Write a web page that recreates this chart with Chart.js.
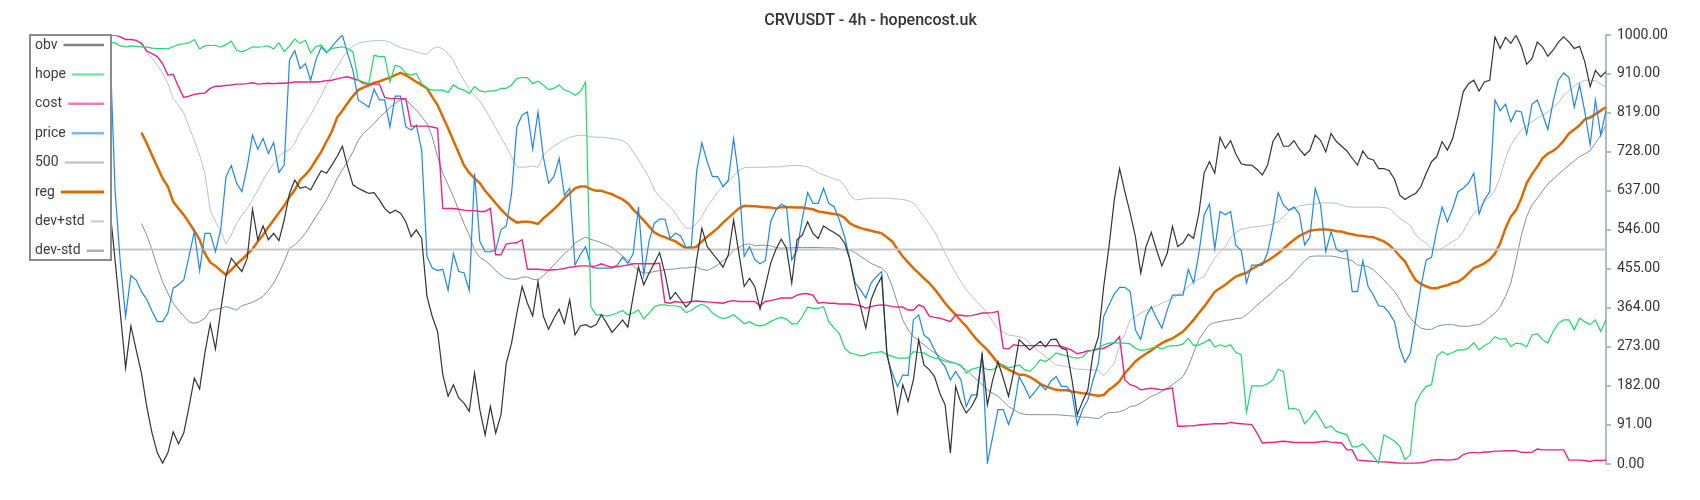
<!DOCTYPE html>
<html>
<head>
<meta charset="utf-8">
<title>CRVUSDT - 4h - hopencost.uk</title>
<script src="https://cdn.jsdelivr.net/npm/chart.js@4.4.1/dist/chart.umd.min.js"></script>
<style>
    body { margin: 0; background: #fff; }
    canvas { display: block; }
</style>
</head>
<body>
<canvas id="hopeChart" width="1700" height="500"></canvas>
<script>
// values, 0..1000 scale, one per 4h candle
const obv = [
    820, 800, 790, 760, 780, 750, 740, 720, 700, 690,
    680, 660, 640, 600, 476, 352, 224, 322, 266, 212,
    134, 72, 26, 2, 26, 75, 47, 72, 134, 200,
    175, 259, 327, 268, 359, 441, 480, 464, 449, 480,
    594, 523, 555, 523, 538, 521, 569, 631, 662, 643,
    647, 639, 662, 684, 678, 697, 717, 741, 693, 651,
    643, 637, 631, 633, 616, 596, 585, 592, 585, 565,
    530, 546, 526, 391, 344, 309, 208, 158, 185, 154,
    142, 123, 212, 127, 68, 134, 72, 115, 235, 282,
    352, 414, 375, 345, 425, 345, 314, 340, 361, 328,
    383, 301, 322, 325, 319, 325, 348, 328, 307, 321,
    336, 319, 391, 460, 418, 445, 468, 493, 445, 384,
    400, 383, 366, 379, 476, 550, 507, 491, 476, 459,
    488, 569, 491, 414, 433, 414, 361, 414, 468, 501,
    524, 503, 422, 523, 534, 565, 538, 526, 555, 547,
    540, 532, 515, 476, 414, 367, 317, 383, 414, 437,
    259, 196, 119, 185, 146, 196, 290, 231, 220, 204,
    165, 138, 26, 181, 142, 119, 134, 158, 255, 138,
    196, 239, 200, 158, 216, 290, 278, 266, 276, 286,
    273, 290, 291, 270, 266, 196, 115, 146, 173, 259,
    297, 414, 507, 616, 689, 635, 585, 530, 445, 507,
    540, 499, 462, 491, 554, 507, 516, 536, 526, 585,
    679, 705, 678, 762, 736, 754, 723, 700, 697, 697,
    687, 674, 697, 752, 771, 741, 741, 754, 734, 720,
    732, 767, 755, 728, 771, 752, 741, 730, 713, 697,
    730, 713, 709, 689, 689, 684, 664, 627, 617, 625,
    631, 647, 678, 705, 717, 752, 732, 759, 810, 868,
    887, 895, 870, 891, 895, 996, 969, 995, 981, 1000,
    973, 932, 946, 984, 973, 951, 965, 984, 996, 984,
    969, 974, 938, 880, 918, 903, 915
];

const hope = [
    990, 988, 992, 995, 990, 985, 990, 992, 988, 996,
    998, 990, 986, 984, 982, 975, 973, 975, 974, 973,
    972, 970, 969, 969, 968, 973, 978, 980, 982, 990,
    968, 975, 976, 976, 972, 978, 986, 965, 961, 966,
    973, 972, 973, 975, 968, 982, 962, 975, 991, 981,
    988, 959, 973, 977, 961, 969, 971, 973, 969, 961,
    895, 891, 887, 953, 950, 950, 891, 930, 926, 911,
    907, 911, 887, 876, 872, 872, 872, 866, 884, 876,
    872, 864, 880, 870, 868, 870, 870, 876, 876, 884,
    899, 901, 901, 887, 893, 884, 873, 876, 884, 872,
    868, 860, 868, 891, 367, 348, 348, 345, 348, 352,
    358, 348, 352, 359, 338, 352, 366, 371, 371, 369,
    369, 366, 353, 358, 367, 373, 366, 352, 344, 339,
    342, 348, 338, 327, 332, 325, 322, 325, 332, 338,
    342, 338, 327, 327, 344, 366, 363, 363, 367, 332,
    317, 304, 270, 259, 256, 252, 254, 259, 260, 262,
    255, 251, 247, 247, 247, 262, 260, 259, 252, 247,
    245, 239, 237, 235, 231, 212, 221, 224, 227, 220,
    220, 227, 231, 224, 227, 231, 220, 216, 227, 243,
    239, 247, 259, 255, 252, 249, 247, 249, 262, 266,
    270, 278, 282, 283, 282, 282, 280, 270, 265, 266,
    270, 273, 268, 274, 276, 276, 280, 293, 276, 278,
    283, 291, 273, 278, 274, 278, 260, 255, 120, 182,
    182, 182, 187, 196, 221, 216, 128, 130, 125, 94,
    107, 125, 105, 84, 89, 76, 72, 68, 40, 40,
    47, 33, 18, 2, 68, 61, 53, 41, 10, 22,
    142, 165, 181, 185, 251, 262, 255, 260, 266, 266,
    270, 283, 266, 276, 283, 297, 291, 293, 274, 282,
    280, 273, 301, 304, 290, 282, 309, 328, 336, 336,
    313, 340, 332, 325, 336, 309, 336
];

const cost = [
    996, 998, 1000, 1000, 999, 998, 997, 996, 997, 998,
    999, 999, 1000, 1000, 1000, 996, 990, 990, 988, 981,
    963, 957, 950, 934, 907, 909, 880, 855, 858, 862,
    864, 865, 876, 881, 881, 883, 884, 886, 886, 887,
    889, 886, 887, 888, 887, 888, 888, 889, 891, 891,
    891, 891, 891, 892, 894, 895, 898, 901, 903, 899,
    895, 887, 886, 886, 886, 855, 852, 852, 852, 852,
    788, 788, 788, 788, 786, 783, 596, 596, 596, 594,
    592, 591, 591, 589, 589, 596, 488, 488, 513, 515,
    516, 523, 454, 454, 454, 453, 452, 453, 454, 456,
    459, 460, 462, 462, 461, 462, 467, 462, 459, 460,
    462, 464, 467, 467, 467, 467, 467, 468, 377, 375,
    379, 377, 377, 379, 380, 379, 378, 377, 376, 375,
    379, 381, 379, 379, 379, 379, 369, 379, 381, 384,
    387, 387, 387, 394, 397, 397, 394, 375, 377, 375,
    375, 373, 373, 373, 371, 369, 363, 367, 370, 371,
    370, 367, 366, 366, 359, 359, 371, 366, 345, 342,
    340, 336, 332, 348, 347, 345, 346, 349, 352, 352,
    353, 356, 270, 268, 278, 276, 276, 276, 276, 276,
    276, 276, 276, 274, 270, 265, 257, 260, 264, 265,
    268, 270, 276, 283, 297, 196, 185, 181, 173, 175,
    177, 175, 173, 175, 177, 88, 88, 89, 89, 91,
    92, 93, 94, 94, 94, 97, 95, 94, 93, 92,
    72, 49, 50, 50, 52, 53, 52, 50, 50, 50,
    50, 50, 52, 53, 51, 50, 49, 33, 33, 9,
    8, 7, 6, 5, 5, 4, 3, 2, 2, 2,
    2, 3, 5, 9, 10, 10, 9, 10, 12, 22,
    26, 27, 26, 28, 28, 30, 30, 31, 31, 31,
    27, 27, 27, 35, 33, 33, 33, 33, 33, 9,
    9, 9, 8, 6, 9, 8, 9
];

const price = [
    960, 955, 965, 970, 960, 975, 980, 970, 975, 985,
    990, 985, 995, 990, 640, 470, 344, 439, 429, 402,
    384, 356, 332, 332, 352, 410, 418, 429, 484, 542,
    451, 538, 538, 495, 547, 670, 696, 655, 635, 693,
    767, 734, 759, 724, 750, 680, 697, 942, 964, 922,
    934, 895, 942, 973, 959, 973, 988, 1000, 957, 918,
    849, 841, 832, 874, 849, 849, 786, 858, 858, 786,
    779, 790, 732, 484, 457, 451, 454, 405, 491, 449,
    446, 405, 678, 519, 495, 495, 499, 546, 555, 631,
    786, 814, 821, 734, 821, 717, 655, 670, 713, 627,
    643, 464, 488, 507, 460, 457, 457, 457, 457, 464,
    482, 468, 491, 599, 441, 519, 561, 571, 571, 526,
    538, 532, 505, 507, 682, 749, 705, 670, 670, 647,
    662, 759, 666, 484, 507, 477, 467, 474, 565, 592,
    606, 600, 476, 499, 573, 633, 608, 608, 643, 608,
    600, 569, 530, 476, 422, 406, 387, 422, 437, 449,
    251, 212, 181, 208, 206, 336, 348, 301, 291, 266,
    243, 227, 196, 216, 196, 134, 161, 161, 259, 2,
    64, 127, 127, 92, 127, 204, 181, 154, 169, 185,
    173, 193, 204, 181, 181, 165, 92, 127, 150, 196,
    235, 344, 371, 397, 412, 412, 402, 313, 290, 344,
    367, 340, 317, 359, 394, 394, 394, 454, 422, 491,
    581, 606, 501, 589, 581, 589, 509, 499, 422, 464,
    464, 464, 493, 554, 633, 604, 592, 599, 583, 511,
    529, 643, 604, 495, 542, 501, 495, 499, 402, 402,
    474, 414, 394, 369, 367, 352, 332, 270, 237, 259,
    336, 414, 476, 482, 546, 599, 565, 596, 635, 643,
    655, 678, 583, 616, 635, 849, 824, 839, 798, 824,
    821, 769, 839, 849, 816, 780, 845, 895, 912, 901,
    832, 884, 821, 744, 849, 767, 825
];

// regression and its band only start once the window is full
const warmup = new Array(19).fill(null);

const reg = warmup.concat([
    773, 748, 720, 693, 666, 647, 612, 596, 581, 563, 544,
    523, 491, 470, 462, 451, 441, 453, 466, 477, 489,
    501, 519, 534, 552, 569, 586, 602, 623, 639, 662,
    674, 689, 709, 728, 752, 775, 808, 824, 842, 858,
    872, 878, 883, 889, 892, 897, 901, 907, 912, 907,
    899, 891, 884, 876, 856, 837, 810, 783, 754, 726,
    697, 679, 666, 655, 637, 623, 608, 594, 581, 571,
    563, 565, 565, 563, 560, 573, 583, 594, 606, 620,
    631, 643, 647, 647, 641, 637, 637, 633, 629, 623,
    617, 608, 594, 581, 568, 554, 540, 533, 529, 524,
    519, 511, 503, 503, 507, 519, 530, 540, 550, 563,
    574, 585, 596, 602, 601, 601, 600, 599, 598, 596,
    599, 599, 599, 598, 598, 596, 594, 589, 587, 585,
    583, 581, 574, 561, 555, 550, 547, 544, 541, 538,
    529, 519, 501, 484, 470, 457, 445, 433, 422, 408,
    392, 375, 361, 348, 334, 321, 305, 290, 278, 266,
    251, 235, 227, 220, 214, 208, 208, 203, 196, 187,
    181, 177, 173, 172, 172, 169, 167, 165, 164, 161,
    159, 161, 173, 182, 193, 212, 225, 239, 249, 257,
    265, 274, 282, 288, 293, 301, 309, 322, 336, 352,
    367, 384, 402, 410, 418, 428, 437, 442, 446, 454,
    462, 468, 474, 482, 491, 502, 513, 523, 532, 538,
    544, 546, 547, 547, 546, 543, 542, 538, 536, 533,
    532, 530, 529, 524, 519, 511, 499, 485, 472, 449,
    429, 420, 414, 410, 410, 414, 417, 422, 425, 433,
    445, 457, 462, 468, 477, 491, 515, 550, 577, 592,
    620, 655, 676, 693, 713, 724, 730, 740, 754, 771,
    780, 790, 804, 808, 816, 824, 832
]);

const devPlus = warmup.concat([
    983, 961, 946, 930, 911, 887, 852, 837, 818, 786, 755,
    720, 678, 592, 565, 542, 513, 534, 561, 581, 596,
    616, 639, 662, 682, 701, 718, 728, 732, 748, 775,
    794, 814, 837, 860, 884, 907, 926, 946, 963, 974,
    981, 984, 986, 987, 988, 987, 984, 977, 971, 968,
    965, 961, 957, 956, 968, 973, 968, 957, 942, 915,
    895, 873, 858, 847, 827, 806, 783, 762, 740, 717,
    693, 692, 693, 695, 692, 720, 732, 741, 749, 757,
    762, 765, 767, 766, 763, 762, 762, 761, 759, 757,
    754, 746, 728, 709, 689, 668, 639, 623, 612, 600,
    585, 565, 550, 550, 561, 577, 600, 616, 635, 647,
    658, 672, 684, 691, 692, 692, 692, 692, 693, 693,
    693, 695, 696, 696, 695, 693, 687, 679, 674, 670,
    665, 661, 649, 627, 616, 617, 619, 620, 620, 620,
    620, 619, 618, 617, 614, 609, 594, 577, 560, 542,
    517, 491, 468, 445, 425, 406, 392, 379, 366, 352,
    332, 314, 307, 301, 299, 297, 293, 282, 270, 260,
    251, 241, 231, 229, 227, 224, 221, 221, 220, 220,
    218, 206, 220, 235, 278, 303, 336, 344, 352, 358,
    363, 369, 375, 380, 387, 394, 402, 414, 425, 431,
    437, 460, 480, 495, 507, 529, 540, 547, 550, 552,
    554, 555, 557, 560, 565, 577, 589, 596, 602, 604,
    606, 606, 609, 609, 609, 608, 604, 600, 599, 599,
    599, 599, 599, 599, 598, 596, 585, 573, 565, 557,
    534, 523, 515, 503, 498, 503, 511, 519, 526, 542,
    565, 585, 596, 612, 623, 639, 670, 713, 744, 763,
    779, 788, 798, 806, 814, 821, 832, 842, 860, 870,
    881, 889, 895, 895, 894, 886, 878
]);

const devMinus = warmup.concat([
    561, 534, 499, 460, 425, 398, 375, 359, 345, 332, 328,
    332, 340, 358, 361, 363, 367, 363, 359, 369, 373,
    377, 383, 391, 405, 422, 445, 472, 503, 511, 523,
    538, 557, 577, 596, 616, 639, 666, 686, 705, 728,
    755, 771, 783, 794, 808, 819, 832, 841, 850, 849,
    837, 825, 810, 794, 763, 717, 678, 651, 623, 592,
    561, 534, 499, 482, 474, 464, 451, 441, 433, 431,
    431, 436, 436, 431, 429, 439, 451, 464, 477, 491,
    500, 515, 523, 529, 524, 520, 516, 511, 505, 495,
    485, 474, 462, 451, 445, 446, 449, 451, 453, 454,
    455, 457, 457, 459, 459, 454, 451, 457, 464, 474,
    484, 498, 505, 512, 513, 509, 510, 510, 509, 505,
    503, 504, 504, 505, 505, 505, 505, 505, 504, 504,
    504, 502, 498, 499, 493, 484, 476, 468, 462, 457,
    445, 414, 375, 336, 313, 297, 288, 278, 268, 259,
    251, 243, 239, 235, 227, 220, 208, 196, 185, 173,
    165, 158, 146, 134, 127, 119, 116, 115, 115, 115,
    115, 115, 115, 114, 113, 112, 111, 109, 109, 107,
    106, 114, 120, 120, 122, 126, 134, 136, 142, 150,
    158, 163, 169, 177, 185, 194, 204, 227, 259, 290,
    309, 325, 330, 332, 335, 336, 339, 340, 348, 359,
    371, 381, 391, 402, 414, 423, 433, 447, 460, 474,
    484, 485, 485, 485, 485, 483, 480, 478, 474, 464,
    463, 460, 453, 441, 429, 416, 402, 384, 359, 340,
    327, 317, 314, 314, 321, 324, 325, 325, 322, 321,
    321, 324, 325, 332, 342, 352, 367, 391, 422, 476,
    534, 577, 604, 620, 637, 653, 664, 676, 686, 697,
    707, 717, 723, 731, 748, 767, 790
]);

// the "500" series is a flat reference level
const level500 = obv.map(() => 500);
const candles = obv.map((_, i) => i);
const yTicks = [0, 91, 182, 273, 364, 455, 546, 637, 728, 819, 910, 1000];

// boxed legend in the top-left corner, text first, then a line sample
const boxLegend = {
    id: 'boxLegend',
    afterDraw(chart) {
        const ctx = chart.ctx;
        ctx.save();
        ctx.fillStyle = '#ffffff';
        ctx.fillRect(30, 35, 81, 225);
        ctx.strokeStyle = '#8c8c8c';
        ctx.lineWidth = 2;
        ctx.strokeRect(30, 35, 81, 225);
        ctx.font = '14px Roboto';
        ctx.textBaseline = 'middle';
        chart.data.datasets.forEach((ds, i) => {
            const y = 45 + i * 29.4;
            ctx.fillStyle = '#3c3c3c';
            ctx.fillText(ds.label, 35, y);
            const w = ctx.measureText(ds.label).width;
            ctx.strokeStyle = ds.legendColor;
            ctx.lineWidth = ds.label === 'reg' ? 3 : 2.5;
            ctx.beginPath();
            ctx.moveTo(35 + w + 6, y);
            ctx.lineTo(104, y);
            ctx.stroke();
        });
        ctx.restore();
    }
};

function lineSet(label, data, color, legendColor, width) {
    return {
        label: label,
        data: data,
        borderColor: color,
        backgroundColor: color,
        legendColor: legendColor,
        borderWidth: width,
        pointRadius: 0,
        tension: 0,
        fill: false
    };
}

const ctx = document.getElementById('hopeChart').getContext('2d');
new Chart(ctx, {
    type: 'line',
    data: {
        labels: candles,
        datasets: [
            lineSet('obv', obv, '#333333', 'rgba(51,51,51,0.6)', 1.2),
            lineSet('hope', hope, '#1fd86a', 'rgba(31,216,106,0.6)', 1.2),
            lineSet('cost', cost, '#e5248a', 'rgba(229,36,138,0.6)', 1.4),
            lineSet('price', price, '#1e88e5', 'rgba(30,136,229,0.6)', 1.2),
            lineSet('500', level500, '#c8c8c8', '#c8c8c8', 2),
            lineSet('reg', reg, '#dc6a00', '#dc6a00', 2.5),
            lineSet('dev+std', devPlus, '#b9c1c8', 'rgba(185,193,200,0.7)', 1),
            lineSet('dev-std', devMinus, '#84909a', 'rgba(132,144,154,0.7)', 1)
        ]
    },
    options: {
        responsive: false,
        animation: false,
        devicePixelRatio: 1,
        layout: {
            padding: { left: 41, right: 0, top: 0, bottom: 36 }
        },
        plugins: {
            legend: { display: false },
            tooltip: { enabled: false },
            title: {
                display: true,
                text: 'CRVUSDT - 4h - hopencost.uk',
                color: '#333',
                font: { family: 'Roboto', size: 16, weight: '500' },
                padding: { top: 11, bottom: 5 }
            }
        },
        scales: {
            x: {
                display: false
            },
            y: {
                position: 'right',
                min: 0,
                max: 1000,
                border: { display: true, color: '#b3bcc3', width: 2 },
                grid: {
                    drawOnChartArea: false,
                    drawTicks: true,
                    tickLength: 5,
                    color: '#b3bcc3',
                    lineWidth: 2
                },
                ticks: {
                    padding: 6,
                    color: '#333',
                    font: { family: 'Roboto', size: 14 },
                    callback: function(value) {
                        return Number(value).toFixed(2);
                    }
                },
                afterBuildTicks: function(scale) {
                    scale.ticks = yTicks.map(v => ({ value: v }));
                },
                afterFit: function(scale) {
                    scale.width = 94;
                }
            }
        }
    },
    plugins: [boxLegend]
});
</script>
</body>
</html>
